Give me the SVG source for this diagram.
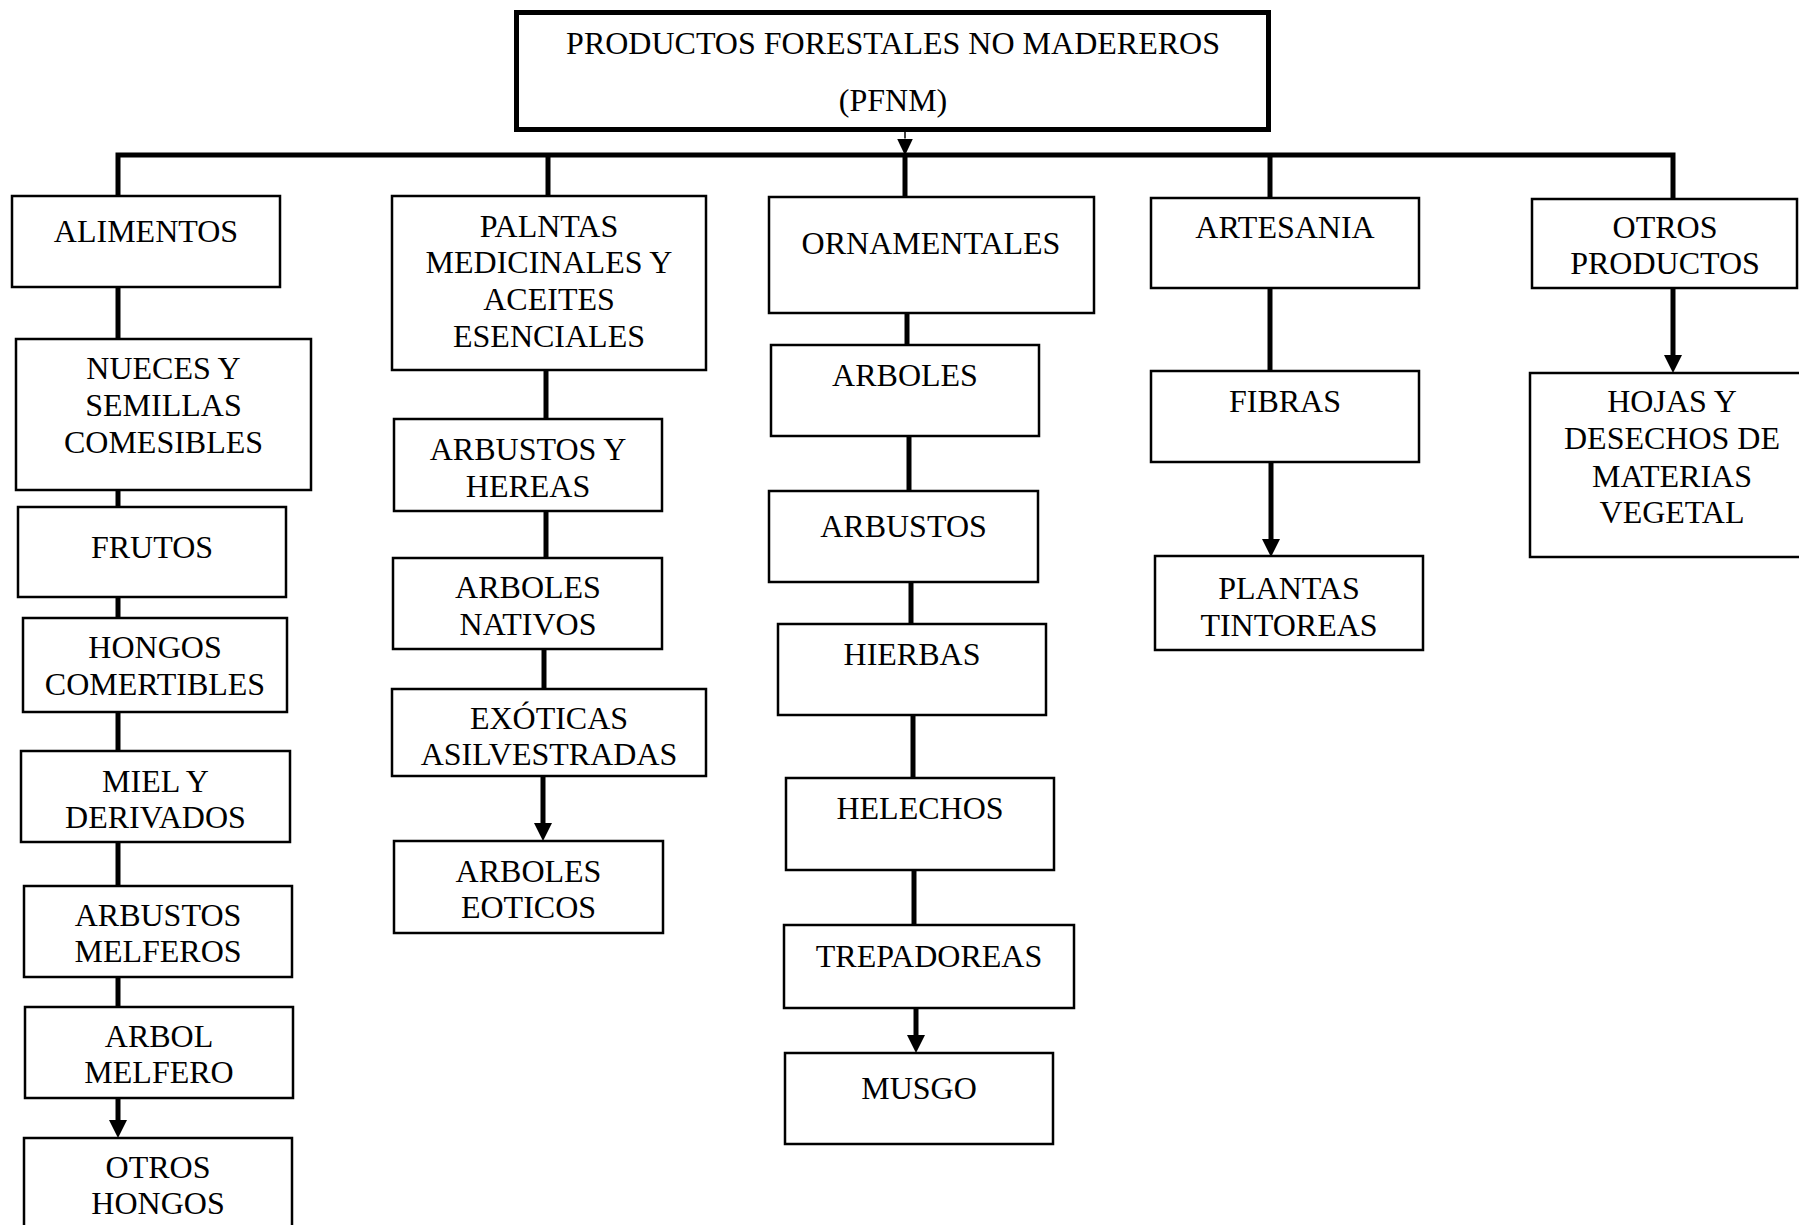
<svg xmlns="http://www.w3.org/2000/svg" width="1799" height="1225" viewBox="0 0 1799 1225">
<style>
.box{fill:#fff;stroke:#000;stroke-width:2.5}
.title{fill:#fff;stroke:#000;stroke-width:5}
.t{font-family:"Liberation Serif","Times New Roman",serif;font-size:32px;fill:#000;text-anchor:middle}
.c{stroke:#000;stroke-width:5;fill:none}
.thin{stroke:#000;stroke-width:1.5;fill:none}
</style>
<defs>
<marker id="arr" viewBox="0 0 18 18" refX="0" refY="9" markerWidth="18" markerHeight="18" markerUnits="userSpaceOnUse" orient="auto">
<path d="M0,0 L18,9 L0,18 z" fill="#000"/>
</marker>
<marker id="arrs" viewBox="0 0 17 16" refX="0" refY="8" markerWidth="17" markerHeight="16" markerUnits="userSpaceOnUse" orient="auto">
<path d="M0,0 L17,8 L0,16 z" fill="#000"/>
</marker>
</defs>
<rect width="1799" height="1225" fill="#fff"/>

<g id="connectors">
<line class="thin" x1="905" y1="132" x2="905" y2="138.5" marker-end="url(#arrs)"/>
<path class="c" d="M118,196 V155 H1673 V199" stroke-linejoin="miter"/>
<line class="c" x1="548" y1="155" x2="548" y2="196"/>
<line class="c" x1="905" y1="155" x2="905" y2="197"/>
<line class="c" x1="1270" y1="155" x2="1270" y2="198"/>
<!-- column 1 -->
<line class="c" x1="118" y1="287" x2="118" y2="339"/>
<line class="c" x1="118" y1="490" x2="118" y2="507"/>
<line class="c" x1="118" y1="597" x2="118" y2="618"/>
<line class="c" x1="118" y1="712" x2="118" y2="751"/>
<line class="c" x1="118" y1="842" x2="118" y2="886"/>
<line class="c" x1="118" y1="977" x2="118" y2="1007"/>
<line class="c" x1="118" y1="1098" x2="118" y2="1120" marker-end="url(#arr)"/>
<!-- column 2 -->
<line class="c" x1="546" y1="370" x2="546" y2="419"/>
<line class="c" x1="546" y1="511" x2="546" y2="558"/>
<line class="c" x1="544" y1="649" x2="544" y2="689"/>
<line class="c" x1="543" y1="776" x2="543" y2="823" marker-end="url(#arr)"/>
<!-- column 3 -->
<line class="c" x1="907" y1="313" x2="907" y2="345"/>
<line class="c" x1="909" y1="436" x2="909" y2="491"/>
<line class="c" x1="911" y1="582" x2="911" y2="624"/>
<line class="c" x1="913" y1="715" x2="913" y2="778"/>
<line class="c" x1="914" y1="870" x2="914" y2="925"/>
<line class="c" x1="916" y1="1008" x2="916" y2="1035" marker-end="url(#arr)"/>
<!-- column 4 -->
<line class="c" x1="1270" y1="288" x2="1270" y2="371"/>
<line class="c" x1="1271" y1="462" x2="1271" y2="539" marker-end="url(#arr)"/>
<!-- column 5 -->
<line class="c" x1="1673" y1="288" x2="1673" y2="355" marker-end="url(#arr)"/>
</g>

<g id="n-title">
<rect class="title" x="516.5" y="12.5" width="752" height="117"/>
<text class="t" x="893" y="54">PRODUCTOS FORESTALES NO MADEREROS</text>
<text class="t" x="893" y="111">(PFNM)</text>
</g>

<g id="n-alimentos">
<rect class="box" x="12" y="196" width="268" height="91"/>
<text class="t" x="146" y="242">ALIMENTOS</text>
</g>
<g id="n-nueces">
<rect class="box" x="16" y="339" width="295" height="151"/>
<text class="t" x="163.5" y="379">NUECES Y</text>
<text class="t" x="163.5" y="416">SEMILLAS</text>
<text class="t" x="163.5" y="453">COMESIBLES</text>
</g>
<g id="n-frutos">
<rect class="box" x="18" y="507" width="268" height="90"/>
<text class="t" x="152" y="558">FRUTOS</text>
</g>
<g id="n-hongos">
<rect class="box" x="23" y="618" width="264" height="94"/>
<text class="t" x="155" y="658">HONGOS</text>
<text class="t" x="155" y="695">COMERTIBLES</text>
</g>
<g id="n-miel">
<rect class="box" x="21" y="751" width="269" height="91"/>
<text class="t" x="155.5" y="792">MIEL Y</text>
<text class="t" x="155.5" y="828">DERIVADOS</text>
</g>
<g id="n-arbustos-melferos">
<rect class="box" x="24" y="886" width="268" height="91"/>
<text class="t" x="158" y="926">ARBUSTOS</text>
<text class="t" x="158" y="962">MELFEROS</text>
</g>
<g id="n-arbol-melfero">
<rect class="box" x="25" y="1007" width="268" height="91"/>
<text class="t" x="159" y="1047">ARBOL</text>
<text class="t" x="159" y="1083">MELFERO</text>
</g>
<g id="n-otros-hongos">
<rect class="box" x="24" y="1138" width="268" height="110"/>
<text class="t" x="158" y="1178">OTROS</text>
<text class="t" x="158" y="1214">HONGOS</text>
</g>

<g id="n-plantas-medicinales">
<rect class="box" x="392" y="196" width="314" height="174"/>
<text class="t" x="549" y="237">PALNTAS</text>
<text class="t" x="549" y="273">MEDICINALES Y</text>
<text class="t" x="549" y="310">ACEITES</text>
<text class="t" x="549" y="347">ESENCIALES</text>
</g>
<g id="n-arbustos-hereas">
<rect class="box" x="394" y="419" width="268" height="92"/>
<text class="t" x="528" y="460">ARBUSTOS Y</text>
<text class="t" x="528" y="497">HEREAS</text>
</g>
<g id="n-arboles-nativos">
<rect class="box" x="393" y="558" width="269" height="91"/>
<text class="t" x="528" y="598">ARBOLES</text>
<text class="t" x="528" y="635">NATIVOS</text>
</g>
<g id="n-exoticas">
<rect class="box" x="392" y="689" width="314" height="87"/>
<text class="t" x="549" y="729">EXÓTICAS</text>
<text class="t" x="549" y="765">ASILVESTRADAS</text>
</g>
<g id="n-arboles-eoticos">
<rect class="box" x="394" y="841" width="269" height="92"/>
<text class="t" x="528.5" y="882">ARBOLES</text>
<text class="t" x="528.5" y="918">EOTICOS</text>
</g>

<g id="n-ornamentales">
<rect class="box" x="769" y="197" width="325" height="116"/>
<text class="t" x="931" y="254">ORNAMENTALES</text>
</g>
<g id="n-arboles">
<rect class="box" x="771" y="345" width="268" height="91"/>
<text class="t" x="905" y="386">ARBOLES</text>
</g>
<g id="n-arbustos">
<rect class="box" x="769" y="491" width="269" height="91"/>
<text class="t" x="903.5" y="537">ARBUSTOS</text>
</g>
<g id="n-hierbas">
<rect class="box" x="778" y="624" width="268" height="91"/>
<text class="t" x="912" y="665">HIERBAS</text>
</g>
<g id="n-helechos">
<rect class="box" x="786" y="778" width="268" height="92"/>
<text class="t" x="920" y="819">HELECHOS</text>
</g>
<g id="n-trepadoreas">
<rect class="box" x="784" y="925" width="290" height="83"/>
<text class="t" x="929" y="967">TREPADOREAS</text>
</g>
<g id="n-musgo">
<rect class="box" x="785" y="1053" width="268" height="91"/>
<text class="t" x="919" y="1099">MUSGO</text>
</g>

<g id="n-artesania">
<rect class="box" x="1151" y="198" width="268" height="90"/>
<text class="t" x="1285" y="238">ARTESANIA</text>
</g>
<g id="n-fibras">
<rect class="box" x="1151" y="371" width="268" height="91"/>
<text class="t" x="1285" y="412">FIBRAS</text>
</g>
<g id="n-plantas-tintoreas">
<rect class="box" x="1155" y="556" width="268" height="94"/>
<text class="t" x="1289" y="599">PLANTAS</text>
<text class="t" x="1289" y="636">TINTOREAS</text>
</g>

<g id="n-otros-productos">
<rect class="box" x="1532" y="199" width="265" height="89"/>
<text class="t" x="1665" y="238">OTROS</text>
<text class="t" x="1665" y="274">PRODUCTOS</text>
</g>
<g id="n-hojas">
<rect class="box" x="1530" y="373" width="285" height="184"/>
<text class="t" x="1672" y="412">HOJAS Y</text>
<text class="t" x="1672" y="449">DESECHOS DE</text>
<text class="t" x="1672" y="487">MATERIAS</text>
<text class="t" x="1672" y="523">VEGETAL</text>
</g>
</svg>
